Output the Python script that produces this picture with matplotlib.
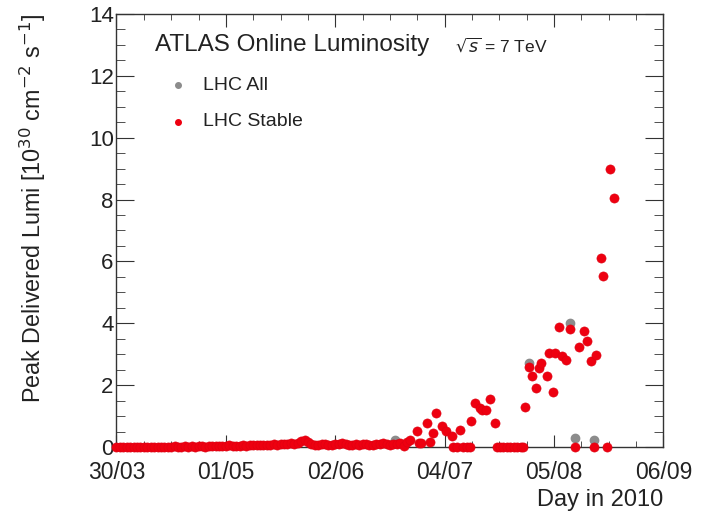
import numpy as np
import matplotlib
matplotlib.use('Agg')
import matplotlib.pyplot as plt

plt.rcParams['font.family'] = ['Liberation Sans', 'DejaVu Sans']

# x = days since 30/03/2010
base_vals = [0.00, 0.00, 0.01, 0.00, 0.01, 0.00, 0.00, 0.01, 0.00, 0.01,
             0.01, 0.00, 0.01, 0.01, 0.00, 0.01, 0.01, 0.02, 0.01, 0.01,
             0.02, 0.01, 0.02, 0.01, 0.02, 0.02, 0.01, 0.02, 0.02, 0.03,
             0.04, 0.03, 0.04, 0.05, 0.04, 0.03, 0.04, 0.05, 0.04, 0.05,
             0.06, 0.05, 0.06, 0.07, 0.06,
             0.08, 0.09, 0.08, 0.10, 0.09, 0.11, 0.12, 0.10, 0.14, 0.18,
             0.23, 0.16, 0.10,
             0.08, 0.07, 0.09, 0.10, 0.08, 0.07, 0.09, 0.10, 0.13, 0.11,
             0.08, 0.07, 0.09, 0.08, 0.10, 0.09, 0.07, 0.08, 0.09, 0.10,
             0.12, 0.09, 0.08, 0.11, 0.10, 0.12]
base_days = list(range(len(base_vals)))

late_days = [84.1, 85.1, 86.0, 87.8, 88.5, 89.2, 90.8, 91.7, 92.6, 93.6,
             95.1, 96.5, 98.0, 98.5, 99.5, 100.6, 101.5, 102.5, 103.5, 103.7,
             104.8, 106.3, 106.8, 108.2, 109.4, 110.7, 111.2, 112.2, 113.2, 114.2,
             115.2, 116.2, 117.2, 118.2, 119.0, 119.5, 120.7, 121.4, 122.7, 123.6,
             124.3, 125.8, 126.5, 127.7, 128.2, 129.5, 130.2, 131.6, 132.6, 134.1,
             135.3, 136.7, 137.5, 138.7, 139.6, 140.4, 141.6, 142.3, 143.5, 144.5,
             145.5]
late_vals = [0.02, 0.17, 0.23, 0.53, 0.14, 0.14, 0.78, 0.17, 0.46, 1.11,
             0.68, 0.53, 0.36, 0.00, 0.00, 0.55, 0.00, 0.00, 0.00, 0.85,
             1.41, 1.25, 1.20, 1.20, 1.55, 0.77, 0.00, 0.00, 0.00, 0.00,
             0.00, 0.00, 0.00, 0.00, 0.00, 1.28, 2.60, 2.30, 1.90, 2.54,
             2.73, 2.30, 3.05, 1.79, 3.05, 3.89, 2.94, 2.81, 3.81, 0.00,
             3.24, 3.76, 3.44, 2.78, 0.00, 2.97, 6.10, 5.53, 0.00, 8.99,
             8.06]

stable_days = base_days + late_days
stable_vals = base_vals + late_vals

# LHC All points that stick out above the stable ones
all_days = [81.6, 120.7, 132.6, 134.1, 139.6]
all_vals = [0.23, 2.73, 4.00, 0.30, 0.22]

tick_days = [0, 32, 64, 96, 128, 160]
tick_labels = ['30/03', '01/05', '02/06', '04/07', '05/08', '06/09']

fig = plt.figure(figsize=(7.09, 5.22), dpi=100)
ax = fig.add_axes([0.1643, 0.1437, 0.7715, 0.8295])

red = '#ee0010'
gray = '#8c8c8c'
ax.plot(all_days, all_vals, 'o', color=gray, ms=6, mec=gray, zorder=2)
ax.plot(stable_days, stable_vals, 'o', color=red, ms=6.6, mec='#dd0010',
        mew=0.4, zorder=3, clip_on=False)

ax.set_xlim(0, 160)
ax.set_ylim(0, 14)
ax.set_xticks(tick_days)
ax.set_xticklabels(tick_labels)
ax.set_xticks(np.arange(0, 161, 8), minor=True)
ax.set_yticks(np.arange(0, 15, 2))
ax.set_yticks(np.arange(0, 14.1, 0.5), minor=True)

for s in ax.spines.values():
    s.set_color('#333333')
    s.set_linewidth(1.0)
ax.tick_params(axis='both', which='both', direction='in', top=True, right=True,
               color='#333333', labelcolor='#222222')
ax.tick_params(axis='x', which='major', length=9, pad=10, labelsize=16.5)
ax.tick_params(axis='x', which='minor', length=4.5)
ax.tick_params(axis='y', which='major', length=13, pad=2, labelsize=16)
ax.tick_params(axis='y', which='minor', length=6.5)

ax.text(0.070, 0.928, 'ATLAS Online Luminosity', transform=ax.transAxes,
        fontsize=17.5, va='center', ha='left', color='#222222')
ax.text(0.619, 0.928, r'$\sqrt{s}$ = 7 TeV', transform=ax.transAxes,
        fontsize=12.5, va='center', ha='left', color='#222222')
ax.plot([0.112], [0.836], 'o', color=gray, ms=4, transform=ax.transAxes)
ax.plot([0.112], [0.751], 'o', color=red, ms=4, transform=ax.transAxes)
ax.text(0.158, 0.836, 'LHC All', transform=ax.transAxes, fontsize=14,
        va='center', ha='left', color='#222222')
ax.text(0.158, 0.751, 'LHC Stable', transform=ax.transAxes, fontsize=14,
        va='center', ha='left', color='#222222')

fig.text(33 / 709, 1 - 208 / 522,
         r'Peak Delivered Lumi [10$^{30}$ cm$^{-2}$ s$^{-1}$]',
         rotation=90, ha='center', va='center', fontsize=16.8, color='#222222')
fig.text(663 / 709, 1 - 500 / 522, 'Day in 2010', ha='right', va='center',
         fontsize=17, color='#222222')

fig.savefig('out.png', dpi=100)
